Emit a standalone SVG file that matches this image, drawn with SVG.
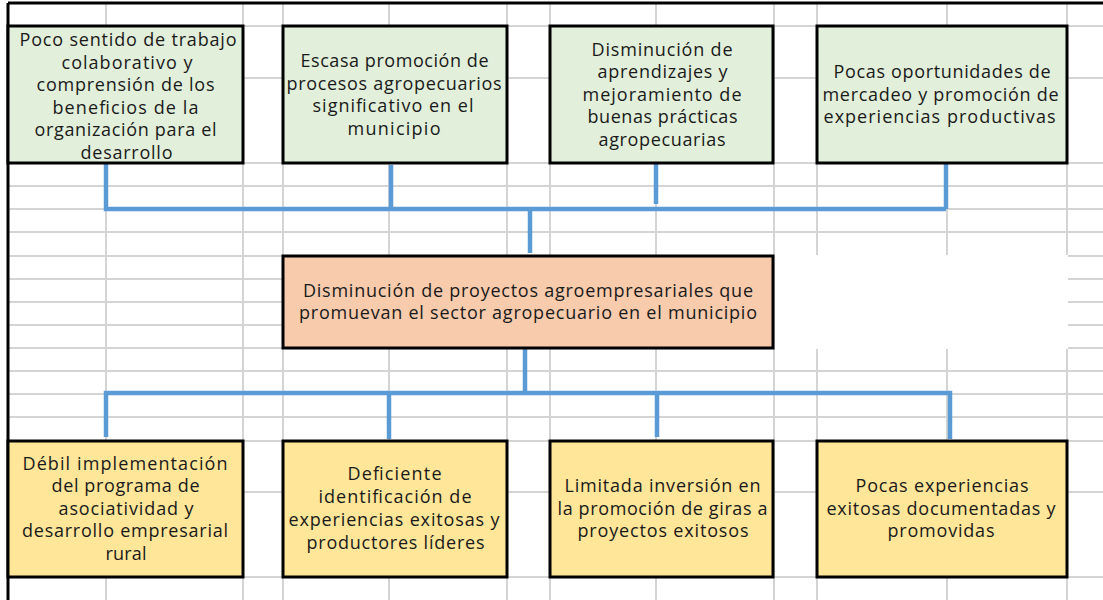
<svg xmlns="http://www.w3.org/2000/svg" width="1103" height="600" viewBox="0 0 1103 600">
<style>
.grid{stroke:#d4d4d4;stroke-width:2;fill:none}
.box{stroke:#000;stroke-width:3}
.g{fill:#e2efda}
.p{fill:#f8cbad}
.y{fill:#ffe699}
.t{font-family:"Open Sans","Liberation Sans",sans-serif;font-size:18px;fill:#1a1a1a;text-anchor:middle}
.c{stroke:#5b9bd5;stroke-width:4.5;fill:none;stroke-linejoin:miter;stroke-linecap:butt}
</style>
<rect x="0" y="0" width="1103" height="600" fill="#fff"/>
<g id="grid">
<path class="grid" d="M106 3V600M243 3V600M283 3V600M389 3V600M507 3V600M550 3V600M656 3V600M774 3V600M817 3V600M947 3V600M1067 3V600"/>
<path class="grid" d="M8 26H1103M8 78H1103M8 163H1103M8 186H1103M8 209H1103M8 232H1103M8 256H1103M8 279H1103M8 302H1103M8 325H1103M8 348H1103M8 371H1103M8 394H1103M8 417H1103M8 441H1103M8 492H1103M8 577H1103"/>
<rect x="775" y="255" width="293" height="94" fill="#fff"/>
<path d="M8 3H1103M8 3V600" stroke="#000" stroke-width="3" fill="none"/>
</g>
<g id="connectors">
<path class="c" d="M106 162V209H946M946 163V209"/>
<path class="c" d="M391 165V209"/>
<path class="c" d="M656 160V204"/>
<path class="c" d="M530 209V253"/>
<path class="c" d="M525 349V393M106 437V393H950V439"/>
<path class="c" d="M389 393V439"/>
<path class="c" d="M657 393V437"/>
</g>
<g id="n1">
<rect class="box g" x="8" y="26" width="235" height="137"/>
<text class="t"><tspan x="128" y="46" textLength="217" lengthAdjust="spacing">Poco sentido de trabajo</tspan><tspan x="127" y="68.5" textLength="131" lengthAdjust="spacing">colaborativo y</tspan><tspan x="125.5" y="91" textLength="178" lengthAdjust="spacing">comprensión de los</tspan><tspan x="125.5" y="113.5" textLength="146" lengthAdjust="spacing">beneficios de la</tspan><tspan x="125.5" y="136" textLength="182" lengthAdjust="spacing">organización para el</tspan><tspan x="126.5" y="158.5" textLength="92" lengthAdjust="spacing">desarrollo</tspan></text>
</g>
<g id="n2">
<rect class="box g" x="283" y="26" width="224" height="137"/>
<text class="t"><tspan x="394.5" y="67" textLength="188" lengthAdjust="spacing">Escasa promoción de</tspan><tspan x="394" y="89.5" textLength="215" lengthAdjust="spacing">procesos agropecuarios</tspan><tspan x="393" y="112" textLength="161" lengthAdjust="spacing">significativo en el</tspan><tspan x="394" y="134.5" textLength="93" lengthAdjust="spacing">municipio</tspan></text>
</g>
<g id="n3">
<rect class="box g" x="550" y="26" width="223" height="137"/>
<text class="t"><tspan x="662" y="55.5" textLength="141" lengthAdjust="spacing">Disminución de</tspan><tspan x="662.5" y="78" textLength="130" lengthAdjust="spacing">aprendizajes y</tspan><tspan x="662" y="100.5" textLength="159" lengthAdjust="spacing">mejoramiento de</tspan><tspan x="662.5" y="123" textLength="150" lengthAdjust="spacing">buenas prácticas</tspan><tspan x="662" y="145.5" textLength="127" lengthAdjust="spacing">agropecuarias</tspan></text>
</g>
<g id="n4">
<rect class="box g" x="817" y="26" width="250" height="137"/>
<text class="t"><tspan x="942" y="78" textLength="217" lengthAdjust="spacing">Pocas oportunidades de</tspan><tspan x="940.5" y="100.5" textLength="236" lengthAdjust="spacing">mercadeo y promoción de</tspan><tspan x="939.5" y="123" textLength="232" lengthAdjust="spacing">experiencias productivas</tspan></text>
</g>
<g id="center">
<rect class="box p" x="283" y="256" width="490" height="92"/>
<text class="t"><tspan x="528" y="297" textLength="450" lengthAdjust="spacing">Disminución de proyectos agroempresariales que</tspan><tspan x="528" y="319" textLength="458" lengthAdjust="spacing">promuevan el sector agropecuario en el municipio</tspan></text>
</g>
<g id="b1">
<rect class="box y" x="8" y="441" width="235" height="136"/>
<text class="t"><tspan x="125" y="469.5" textLength="205" lengthAdjust="spacing">Débil implementación</tspan><tspan x="125.5" y="492" textLength="148" lengthAdjust="spacing">del programa de</tspan><tspan x="126" y="514.5" textLength="135" lengthAdjust="spacing">asociatividad y</tspan><tspan x="125" y="537" textLength="206" lengthAdjust="spacing">desarrollo empresarial</tspan><tspan x="126" y="559.5" textLength="41" lengthAdjust="spacing">rural</tspan></text>
</g>
<g id="b2">
<rect class="box y" x="283" y="441" width="224" height="136"/>
<text class="t"><tspan x="394.5" y="480" textLength="94" lengthAdjust="spacing">Deficiente</tspan><tspan x="395" y="503" textLength="153" lengthAdjust="spacing">identificación de</tspan><tspan x="394" y="526" textLength="211" lengthAdjust="spacing">experiencias exitosas y</tspan><tspan x="395.5" y="548.5" textLength="178" lengthAdjust="spacing">productores líderes</tspan></text>
</g>
<g id="b3">
<rect class="box y" x="550" y="441" width="223" height="136"/>
<text class="t"><tspan x="662.5" y="492" textLength="196" lengthAdjust="spacing">Limitada inversión en</tspan><tspan x="662.5" y="514.5" textLength="210" lengthAdjust="spacing">la promoción de giras a</tspan><tspan x="663" y="537" textLength="171" lengthAdjust="spacing">proyectos exitosos</tspan></text>
</g>
<g id="b4">
<rect class="box y" x="817" y="441" width="250" height="136"/>
<text class="t"><tspan x="942" y="492" textLength="173" lengthAdjust="spacing">Pocas experiencias</tspan><tspan x="941" y="514.5" textLength="229" lengthAdjust="spacing">exitosas documentadas y</tspan><tspan x="941" y="537" textLength="107" lengthAdjust="spacing">promovidas</tspan></text>
</g>
</svg>
